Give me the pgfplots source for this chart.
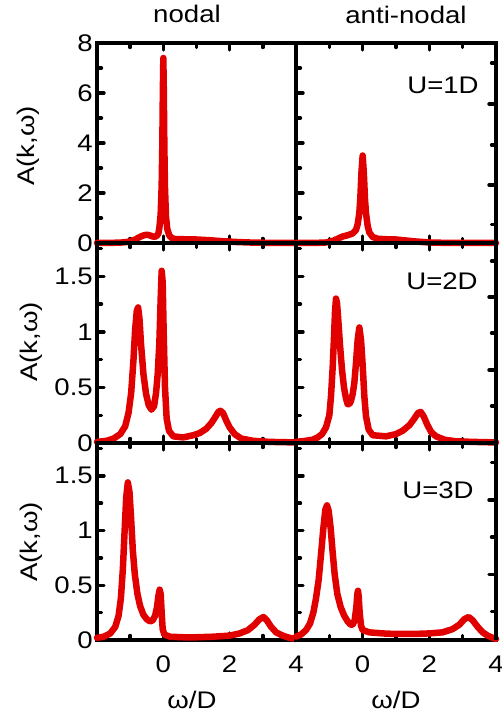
\documentclass[border=0pt]{standalone}
\usepackage{fontspec}
\setmainfont{Liberation Sans}[FakeStretch=1.15]
\usepackage{pgfplots}
\pgfplotsset{compat=1.18}
\definecolor{curvered}{RGB}{224,0,0}

\pgfplotsset{
  panel/.style={
    scale only axis, width=199pt, height=200pt,
    anchor=south west,
    xmin=-2, xmax=4,
    xtick={-2,0,2,4}, minor xtick={-1,1,3},
    xticklabels={,,,},
    ytick pos=left,
    tick align=inside,
    axis line style={line width=3.6pt},
    tick style={black, line width=3.4pt, line cap=round},
    major tick length=7pt, minor tick length=4.5pt,
    clip=false,
    tick label style={font=\fontsize{24}{24}\selectfont},
    /pgf/number format/assume math mode=true,
    yticklabel style={inner sep=4pt},
    xticklabel style={yshift=-12pt},
  },
  top/.style={ymin=0, ymax=8, ytick={0,2,4,6,8}, minor ytick={1,3,5,7}},
  low/.style={ymin=0, ymax=1.8, ytick={0,0.5,1,1.5}, minor ytick={0.25,0.75,1.25,1.75}},
  noy/.style={yticklabels={,,,,}},
  rightticks/.style={
    scale only axis, width=200pt, anchor=south west,
    axis x line=none, axis y line*=right,
    ymin=0, xmin=0, xmax=1,
    tick align=inside,
    axis line style={line width=3.6pt},
    tick style={black, line width=3.4pt, line cap=round},
    major tick length=7pt, minor tick length=4.5pt,
    yticklabels={,,,},
  },
  curve/.style={color=curvered, line width=6.5pt, line join=round, line cap=round},
}

\begin{document}
\begin{tikzpicture}[x=1pt, y=1pt]
\path[use as bounding box] (0,0) rectangle (502,717);

% ---- row 1: U=1D ----
\begin{axis}[panel, top, at={(97pt,474pt)}]
\addplot[curve] coordinates {
(-2,0) (-1.6,0.005) (-1.3,0.015) (-1.1,0.04) (-0.95,0.08) (-0.85,0.14)
(-0.75,0.21) (-0.65,0.28) (-0.55,0.32) (-0.48,0.33) (-0.4,0.3) (-0.32,0.26)
(-0.25,0.25) (-0.19,0.3) (-0.15,0.38) (-0.12,0.6) (-0.08,1.15) (-0.05,2.3)
(-0.03,4.0) (-0.015,6.0) (0,7.4) (0.015,6.0) (0.03,3.9) (0.05,2.2)
(0.08,1.05) (0.12,0.55) (0.18,0.3) (0.25,0.2) (0.35,0.16) (0.6,0.15)
(1.0,0.14) (1.4,0.11) (1.8,0.07) (2.2,0.04) (2.6,0.02) (3,0.01) (4,0)
};
\end{axis}
\begin{axis}[panel, top, noy, width=200pt, at={(296pt,474pt)}]
\addplot[curve] coordinates {
(-2,0) (-1.4,0.005) (-1.1,0.02) (-0.9,0.08) (-0.75,0.17) (-0.6,0.26)
(-0.45,0.31) (-0.3,0.38) (-0.2,0.52) (-0.15,0.75) (-0.1,1.2) (-0.07,1.8)
(-0.035,2.85) (0,3.5) (0.035,2.8) (0.07,1.75) (0.1,1.2) (0.15,0.68)
(0.2,0.42) (0.3,0.24) (0.45,0.17) (0.7,0.15) (1.0,0.14) (1.3,0.1)
(1.6,0.06) (2.0,0.02) (2.5,0.005) (4,0)
};
\end{axis}
\begin{axis}[rightticks, height=200pt, ymax=200, at={(296pt,474pt)},
  ytick={58,139}, minor ytick={18.5,98,180}]
\end{axis}

% ---- row 2: U=2D ----
\begin{axis}[panel, low, at={(97pt,274pt)}]
\addplot[curve] coordinates {
(-2,0.01) (-1.7,0.02) (-1.5,0.04) (-1.3,0.08) (-1.15,0.15) (-1.05,0.27)
(-0.97,0.45) (-0.9,0.75) (-0.85,1.02) (-0.8,1.19) (-0.76,1.22) (-0.72,1.12)
(-0.67,0.88) (-0.6,0.62) (-0.52,0.44) (-0.44,0.34) (-0.36,0.3) (-0.28,0.33)
(-0.22,0.45) (-0.17,0.62) (-0.12,0.9) (-0.08,1.3) (-0.05,1.55) (-0.02,1.45)
(0.01,1.0) (0.05,0.5) (0.1,0.22) (0.17,0.11) (0.3,0.06) (0.6,0.05)
(0.9,0.07) (1.1,0.09) (1.3,0.13) (1.45,0.18) (1.58,0.24) (1.66,0.28)
(1.72,0.29) (1.8,0.27) (1.9,0.2) (2.0,0.14) (2.15,0.08) (2.35,0.04)
(2.7,0.02) (3.2,0.01) (4,0.005)
};
\end{axis}
\begin{axis}[panel, low, noy, width=200pt, at={(296pt,274pt)}]
\addplot[curve] coordinates {
(-2,0.01) (-1.7,0.02) (-1.5,0.03) (-1.35,0.05) (-1.22,0.08) (-1.1,0.14)
(-1.0,0.25) (-0.95,0.42) (-0.9,0.68) (-0.86,0.95) (-0.83,1.18) (-0.8,1.3)
(-0.77,1.26) (-0.73,1.1) (-0.68,0.88) (-0.62,0.66) (-0.56,0.5) (-0.5,0.4)
(-0.45,0.35) (-0.4,0.35) (-0.35,0.38) (-0.3,0.44) (-0.25,0.54) (-0.2,0.72)
(-0.15,0.93) (-0.1,1.04) (-0.05,0.93) (0,0.7) (0.05,0.42) (0.1,0.24)
(0.18,0.12) (0.3,0.07) (0.7,0.06) (1.0,0.08) (1.2,0.11) (1.4,0.16)
(1.55,0.22) (1.66,0.27) (1.74,0.28) (1.83,0.24) (1.93,0.17) (2.05,0.1)
(2.2,0.06) (2.45,0.03) (2.8,0.015) (3.3,0.01) (4,0.005)
};
\end{axis}
\begin{axis}[rightticks, height=200pt, ymax=200, at={(296pt,274pt)},
  ytick={0,73,146}, minor ytick={37,110,182}]
\end{axis}

% ---- row 3: U=3D ----
\begin{axis}[panel, low, height=197pt, at={(97pt,77pt)}, xticklabels={,0,2,4}]
\addplot[curve] coordinates {
(-2,0.02) (-1.8,0.03) (-1.6,0.06) (-1.45,0.12) (-1.35,0.22) (-1.28,0.38)
(-1.22,0.65) (-1.17,0.98) (-1.12,1.3) (-1.07,1.44) (-1.02,1.35) (-0.97,1.1)
(-0.92,0.82) (-0.86,0.6) (-0.78,0.42) (-0.7,0.31) (-0.6,0.23) (-0.5,0.19)
(-0.4,0.17) (-0.32,0.18) (-0.25,0.22) (-0.19,0.3) (-0.15,0.4) (-0.11,0.46)
(-0.08,0.42) (-0.05,0.25) (-0.02,0.1) (0.03,0.05) (0.2,0.03) (0.6,0.025)
(1.0,0.025) (1.5,0.03) (2.0,0.04) (2.3,0.06) (2.55,0.09) (2.75,0.14)
(2.9,0.19) (3.02,0.21) (3.12,0.18) (3.25,0.12) (3.4,0.07) (3.6,0.04)
(3.8,0.02) (4,0.01)
};
\end{axis}
\begin{axis}[panel, low, noy, height=197pt, width=200pt, at={(296pt,77pt)}, xticklabels={,0,2,4}]
\addplot[curve] coordinates {
(-2,0.03) (-1.85,0.05) (-1.7,0.09) (-1.58,0.15) (-1.48,0.25) (-1.4,0.38)
(-1.32,0.55) (-1.25,0.78) (-1.18,1.02) (-1.12,1.19) (-1.07,1.23) (-1.02,1.18)
(-0.96,1.02) (-0.9,0.8) (-0.84,0.6) (-0.76,0.42) (-0.66,0.3) (-0.55,0.22)
(-0.45,0.17) (-0.36,0.14) (-0.3,0.14) (-0.24,0.18) (-0.19,0.3) (-0.16,0.42)
(-0.14,0.45) (-0.12,0.4) (-0.09,0.25) (-0.05,0.13) (0,0.09) (0.2,0.07)
(0.6,0.06) (1.0,0.055) (1.5,0.055) (2.0,0.06) (2.4,0.07) (2.7,0.1)
(2.9,0.14) (3.05,0.19) (3.18,0.21) (3.3,0.18) (3.45,0.12) (3.6,0.07)
(3.75,0.04) (3.9,0.02) (4,0.01)
};
\end{axis}
\begin{axis}[rightticks, height=197pt, ymax=197, at={(296pt,77pt)},
  ytick={65.7,140}, minor ytick={28.4,102.8,177.5}]
\end{axis}

% ---- texts ----
\begin{scope}[every node/.style={font=\fontsize{24}{24}\selectfont, inner sep=0pt}]
\node[anchor=base] at (187,694) {nodal};
\node[anchor=base] at (406,693) {anti-nodal};
\node at (443,632) {U=1D};
\node at (442,436) {U=2D};
\node at (438,227) {U=3D};
\node[rotate=90] at (28,571) {A(k,ω)};
\node[rotate=90] at (31,375) {A(k,ω)};
\node[rotate=90] at (31,175) {A(k,ω)};
\node at (192,17) {ω/D};
\node at (396,17) {ω/D};
\end{scope}
\end{tikzpicture}
\end{document}
